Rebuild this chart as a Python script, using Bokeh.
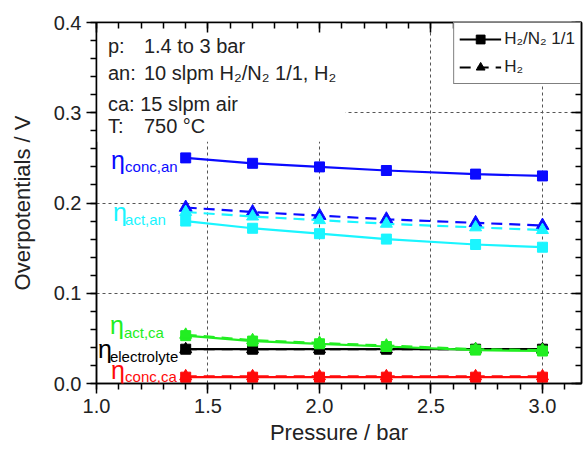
from bokeh.plotting import figure
from bokeh.models import (LinearAxis, SingleIntervalTicker, Range1d, Label, BoxAnnotation,
                          Legend, LegendItem, PrintfTickFormatter, CustomJSTickFormatter)
from bokeh.embed import file_html
from bokeh.resources import INLINE

# ---------------- data ----------------
pressure = [1.4, 1.7, 2.0, 2.3, 2.7, 3.0]

# H2/N2 1/1 (solid, squares)
conc_an_n2 = [0.250, 0.244, 0.240, 0.236, 0.232, 0.230]
act_an_n2 = [0.180, 0.172, 0.166, 0.160, 0.154, 0.151]
act_ca_n2 = [0.053, 0.047, 0.044, 0.041, 0.037, 0.036]
elec_n2 = [0.038, 0.038, 0.038, 0.038, 0.038, 0.038]
conc_ca_n2 = [0.007, 0.007, 0.007, 0.007, 0.007, 0.007]

# H2 (dashed, triangles)
conc_an_h2 = [0.195, 0.190, 0.186, 0.182, 0.178, 0.175]
act_an_h2 = [0.190, 0.185, 0.181, 0.177, 0.173, 0.170]
act_ca_h2 = [0.054, 0.048, 0.045, 0.042, 0.038, 0.037]
elec_h2 = [0.038, 0.038, 0.038, 0.038, 0.038, 0.038]
conc_ca_h2 = [0.008, 0.008, 0.008, 0.008, 0.008, 0.008]

x_ticks_interval = 0.5
y_ticks_interval = 0.1

FONT = "Liberation Sans"
BLUE = "#0a0aff"
CYAN = "#1af5ff"
GREEN = "#22ee22"
RED = "#ff0a0a"
BLACK = "#000000"

p = figure(width=584, height=447, x_range=Range1d(1.0, 3.175), y_range=Range1d(0.0, 0.4),
           output_backend="svg", toolbar_location=None,
           min_border_left=96, min_border_right=3, min_border_top=22, min_border_bottom=64,
           x_axis_label="Pressure / bar", y_axis_label="Overpotentials / V")
p.outline_line_color = "black"
p.outline_line_width = 1.5

xt = SingleIntervalTicker(interval=x_ticks_interval, num_minor_ticks=5)
yt = SingleIntervalTicker(interval=y_ticks_interval, num_minor_ticks=5)
p.xaxis.ticker = xt
p.yaxis.ticker = yt
p.xaxis.formatter = PrintfTickFormatter(format="%.1f")
p.yaxis.formatter = PrintfTickFormatter(format="%.1f")

for ax in (p.xaxis[0], p.yaxis[0]):
    ax.axis_line_width = 1.5
    ax.major_tick_out = 10
    ax.major_tick_in = 0
    ax.minor_tick_out = 6
    ax.minor_tick_in = 0
    ax.major_tick_line_width = 1.5
    ax.minor_tick_line_width = 1.5
    ax.major_label_text_font = FONT
    ax.major_label_text_font_size = "20px"
    ax.major_label_text_color = "#222222"
    ax.axis_label_text_font = FONT
    ax.axis_label_text_font_size = "22px"
    ax.axis_label_text_font_style = "normal"
    ax.axis_label_text_color = "#222222"
p.xaxis.major_label_standoff = 5
p.xaxis.axis_label_standoff = 4
p.yaxis.major_label_standoff = 5
p.yaxis.axis_label_standoff = 16

blank = CustomJSTickFormatter(code="return ''")
for side, tk in (("above", xt), ("right", yt)):
    a = LinearAxis(ticker=tk, formatter=blank, major_label_standoff=0,
                   major_tick_in=10, major_tick_out=0, minor_tick_in=6, minor_tick_out=0,
                   axis_line_width=1.5, major_tick_line_width=1.5, minor_tick_line_width=1.5)
    p.add_layout(a, side)

p.xgrid.grid_line_color = "#555555"
p.xgrid.grid_line_dash = "3 3"
p.ygrid.grid_line_color = "#555555"
p.ygrid.grid_line_dash = "3 3"

# white box behind the condition text (hides grid there)
p.add_layout(BoxAnnotation(left=1.0, right=2.117, bottom=0.268, top=0.4,
                           fill_color="white", fill_alpha=1.0, line_color=None,
                           level="underlay"))

DASH = "11 7"

def series(y, color, dashed, marker, size):
    ln = p.line(pressure, y, line_color=color, line_width=2.2,
                line_dash=DASH if dashed else "solid")
    sc = p.scatter(pressure, y, marker=marker, size=size, fill_color=color,
                   line_color=color, line_width=1)
    return ln, sc

series(conc_an_n2, BLUE, False, "square", 10)
series(conc_an_h2, BLUE, True, "triangle", 13)
series(act_an_h2, CYAN, True, "triangle", 12)
series(act_an_n2, CYAN, False, "square", 10)
l_el_h2, s_el_h2 = series(elec_h2, BLACK, True, "triangle", 12)
l_el_n2, s_el_n2 = series(elec_n2, BLACK, False, "square", 10)
series(act_ca_n2, GREEN, False, "square", 10)
series(act_ca_h2, GREEN, True, "triangle", 12)
series(conc_ca_n2, RED, False, "square", 10)
series(conc_ca_h2, RED, True, "triangle", 12)

legend = Legend(items=[LegendItem(label="H₂/N₂ 1/1", renderers=[l_el_n2, s_el_n2]),
                       LegendItem(label="H₂", renderers=[l_el_h2, s_el_h2])],
                location="top_right", margin=0, padding=5, spacing=6,
                glyph_width=42, glyph_height=22, label_standoff=3,
                label_text_font=FONT, label_text_font_size="17px", label_text_color="#222222",
                border_line_color="black", border_line_width=1, background_fill_alpha=1.0)
p.add_layout(legend)

# condition text block
def lab(x, y, t, size="20px", color="#222222"):
    p.add_layout(Label(x=x, y=y, text=t, text_font=FONT, text_font_size=size,
                       text_color=color, text_baseline="alphabetic", text_align="left"))

lab(1.0515, 0.374, "p:")
lab(1.2126, 0.374, "1.4 to 3 bar")
lab(1.0515, 0.344, "an:")
lab(1.2126, 0.344, "10 slpm H₂/N₂ 1/1, H₂")
lab(1.0515, 0.310, "ca: 15 slpm air")
lab(1.0515, 0.285, "T:")
lab(1.2126, 0.285, "750 °C")

# eta labels (main symbol + subscript)
eta_labels = [
    (1.065, 0.2478, 1.128, 0.240, "conc,an", BLUE),
    (1.074, 0.1897, 1.128, 0.1820, "act,an", CYAN),
    (1.060, 0.0646, 1.123, 0.0566, "act,ca", GREEN),
    (1.007, 0.0378, 1.060, 0.0300, "electrolyte", BLACK),
    (1.065, 0.0150, 1.128, 0.0080, "conc,ca", RED),
]
for ex, ey, sx, sy, sub, col in eta_labels:
    lab(ex, ey, "η", "25px", col)
    lab(sx, sy, sub, "15px", col)

open("out.html", "w").write(file_html(p, INLINE))
